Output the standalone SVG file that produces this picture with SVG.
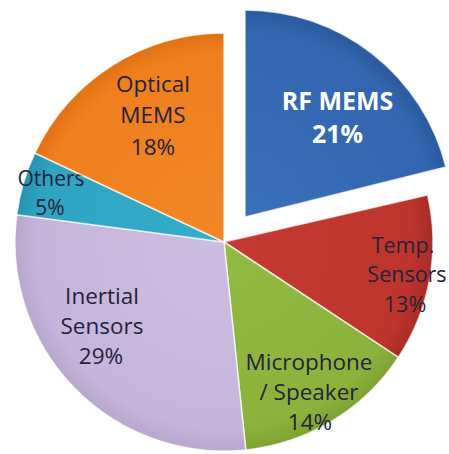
<svg xmlns="http://www.w3.org/2000/svg" width="449" height="454" viewBox="0 0 449 454">
<style>
.sl{stroke:#ffffff;stroke-width:1.5;stroke-opacity:0.7;stroke-linejoin:round}
.lb{font-family:"Open Sans","DejaVu Sans",sans-serif;font-size:22.5px;fill:#23233a;text-anchor:middle}
.lw{font-family:"Open Sans","DejaVu Sans",sans-serif;font-size:25px;font-weight:bold;fill:#ffffff;text-anchor:middle}
</style>
<defs>
<radialGradient id="gB" cx="245" cy="217" r="207" gradientUnits="userSpaceOnUse"><stop offset="0" stop-color="#3A6FBA"/><stop offset="0.9" stop-color="#3266B0"/><stop offset="1" stop-color="#2A5A9E"/></radialGradient>
<radialGradient id="gR" cx="224" cy="242" r="209" gradientUnits="userSpaceOnUse"><stop offset="0" stop-color="#C43A33"/><stop offset="0.9" stop-color="#BE352E"/><stop offset="1" stop-color="#A92C27"/></radialGradient>
<radialGradient id="gG" cx="224" cy="242" r="209" gradientUnits="userSpaceOnUse"><stop offset="0" stop-color="#93BA42"/><stop offset="0.9" stop-color="#8BB23B"/><stop offset="1" stop-color="#7DA232"/></radialGradient>
<radialGradient id="gL" cx="224" cy="242" r="209" gradientUnits="userSpaceOnUse"><stop offset="0" stop-color="#CDBDE0"/><stop offset="0.9" stop-color="#C6B5DA"/><stop offset="1" stop-color="#B8A6CE"/></radialGradient>
<radialGradient id="gT" cx="224" cy="242" r="209" gradientUnits="userSpaceOnUse"><stop offset="0" stop-color="#36ADCA"/><stop offset="0.9" stop-color="#2EA4C2"/><stop offset="1" stop-color="#2592AE"/></radialGradient>
<radialGradient id="gO" cx="224" cy="242" r="209" gradientUnits="userSpaceOnUse"><stop offset="0" stop-color="#F38725"/><stop offset="0.9" stop-color="#F07F1E"/><stop offset="1" stop-color="#E07214"/></radialGradient>
</defs>
<rect width="449" height="454" fill="#ffffff"/>
<g id="connectors"/>
<g id="rf-mems">
<path class="sl" fill="url(#gB)" d="M245,217 L245,10 A207,207 0 0 1 445.9,166.9 Z"/>
<text class="lw" x="337.5" y="110">RF MEMS</text>
<text class="lw" x="337.5" y="143">21%</text>
</g>
<g id="temp-sensors">
<path class="sl" fill="url(#gR)" d="M224,242 L427.6,195 A209,209 0 0 1 398.3,357.3 Z"/>
<text class="lb" x="403" y="253" style="font-size:21.5px">Temp.</text>
<text class="lb" x="407" y="282" style="font-size:21.5px">Sensors</text>
<text class="lb" x="405" y="312" style="font-size:21.5px">13%</text>
</g>
<g id="microphone-speaker">
<path class="sl" fill="url(#gG)" d="M224,242 L398.3,357.3 A209,209 0 0 1 245.8,449.9 Z"/>
<text class="lb" x="309" y="370">Microphone</text>
<text class="lb" x="309" y="400">/ Speaker</text>
<text class="lb" x="310" y="430">14%</text>
</g>
<g id="inertial-sensors">
<path class="sl" fill="url(#gL)" d="M224,242 L245.8,449.9 A209,209 0 0 1 16.8,214.7 Z"/>
<text class="lb" x="102" y="304">Inertial</text>
<text class="lb" x="102" y="334">Sensors</text>
<text class="lb" x="101" y="364">29%</text>
</g>
<g id="others">
<path class="sl" fill="url(#gT)" d="M224,242 L16.8,214.7 A209,209 0 0 1 34.9,153 Z"/>
<text class="lb" x="51" y="186" style="font-size:21px">Others</text>
<text class="lb" x="50" y="215" style="font-size:21px">5%</text>
</g>
<g id="optical-mems">
<path class="sl" fill="url(#gO)" d="M224,242 L34.9,153 A209,209 0 0 1 224,33 Z"/>
<text class="lb" x="153" y="92">Optical</text>
<text class="lb" x="153" y="123">MEMS</text>
<text class="lb" x="153" y="155">18%</text>
</g>
</svg>
